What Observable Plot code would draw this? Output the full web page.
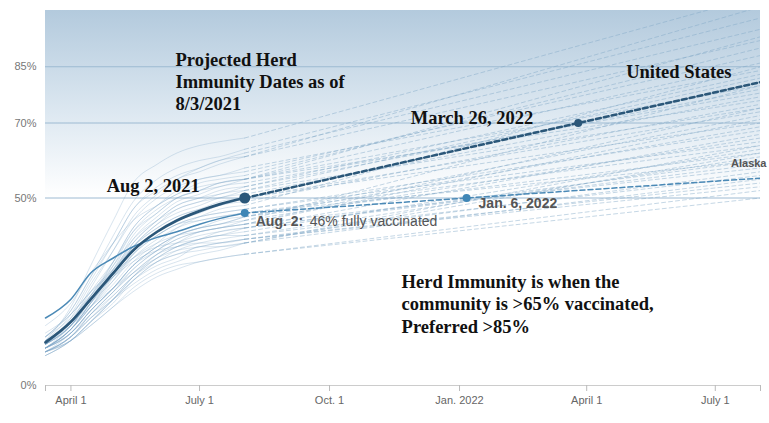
<!DOCTYPE html>
<html><head><meta charset="utf-8">
<script src="https://cdn.jsdelivr.net/npm/d3@7"></script>
<script src="https://cdn.jsdelivr.net/npm/@observablehq/plot@0.6"></script>
<style>
body{margin:0;background:#fff;}
#chart svg{display:block;}
</style>
</head><body><div id="chart"></div>
<script>
// ---- data ----
const histDates = ["2021-03-14","2021-04-01","2021-04-15","2021-05-01","2021-05-15","2021-06-01","2021-06-15","2021-07-01","2021-07-15","2021-08-02"];
const projEndDate = "2022-08-02";
const domainStart = "2021-03-14";
const xTickDates = ["2021-03-14","2021-04-01","2021-07-01","2021-10-01","2022-01-01","2022-04-01","2022-07-01","2022-08-02"];
const xTickLabels = ["","April 1","July 1","Oct. 1","Jan. 2022","April 1","July 1",""];
const yTicks = [0, 50, 70, 85];
const gridLines = [50, 70, 85];

const usValues = [11.5, 17, 23, 30, 36, 41, 44, 46.5, 48.3, 50];
const usMilestone = {date: "2022-03-26", value: 70, label: "March 26, 2022"};
const usProjEnd = 80.9;

const alaskaValues = [18, 23, 30, 34, 37, 39.5, 41, 43, 44.5, 46];
const alaskaMilestone = {date: "2022-01-06", value: 50, label: "Jan. 6, 2022"};
const alaskaProjEnd = 55.3;

const stateNames = ["VT","ME","MA","CT","RI","NJ","MD","NH","WA","NM","NY","OR","VA","HI","CO","MN","CA","DE","PA","WI","IL","NE","IA","MI","SD","KY","FL","KS","OH","AZ","NC","TX","MT","MO","SC","GA","TN","AR","LA","WY","ID","MS","AL","WV","UT","ND","NV","IN"];
const stateValues = [
  [12,21,32,44,54,59,62,64,65,66],
  [13,20,29,40,49,55,58,60,61,63],
  [12,19,28,38,47,53,56,58,60,62],
  [13,20,29,38,47,52,55,58,60,61],
  [11,17,26,36,45,51,55,57,59,61],
  [11,16,24,33,42,48,52,55,56,57],
  [11,16,23,33,42,48,51,54,55,56],
  [11,18,27,36,44,50,53,55,56,58],
  [10,15,22,31,40,46,50,52,54,55],
  [16,22,30,38,44,48,51,53,54,55],
  [11,16,23,32,41,47,50,52,54,55],
  [10,15,21,30,39,45,49,51,53,54],
  [10,15,22,30,38,44,48,50,52,53],
  [12,17,25,33,41,46,50,52,53,55],
  [10,16,23,31,38,44,48,50,51,53],
  [11,17,24,32,39,44,47,49,50,52],
  [10,15,21,29,37,43,47,49,51,52],
  [11,16,23,30,37,43,46,48,50,51],
  [10,15,22,30,37,42,45,47,49,50],
  [11,17,24,31,37,42,45,47,48,50],
  [10,15,21,28,35,41,44,46,48,49],
  [10,15,22,29,35,40,43,45,46,47],
  [11,16,23,29,35,40,43,45,46,47],
  [11,16,22,28,34,39,42,44,45,46],
  [13,19,25,31,36,40,43,44,45,46],
  [10,14,20,26,32,37,40,42,43,45],
  [10,15,21,27,33,38,42,45,47,48],
  [10,14,20,26,32,36,40,42,43,44],
  [10,14,20,26,32,37,40,42,44,45],
  [9,14,20,26,32,37,40,42,43,45],
  [10,14,20,26,31,36,39,41,42,43],
  [8,12,17,23,29,35,38,41,42,44],
  [12,17,23,29,34,38,40,41,42,43],
  [9,13,19,25,30,35,37,39,41,42],
  [9,13,18,24,29,34,37,39,40,41],
  [8,12,17,22,28,33,36,38,39,40],
  [9,12,17,23,28,33,35,37,38,39],
  [9,13,18,23,28,32,34,37,37,38],
  [9,13,18,23,27,31,33,35,36,38],
  [12,16,21,26,30,34,36,37,38,39],
  [10,14,19,24,29,33,35,36,37,38],
  [9,12,16,21,25,29,31,33,34,35],
  [9,12,16,21,26,30,32,33,34,35],
  [13,18,24,29,33,36,37,38,38,39],
  [8,12,17,23,29,34,37,39,40,42],
  [14,19,25,30,34,37,38,39,40,40],
  [9,13,19,25,31,36,39,41,42,43],
  [9,13,19,25,30,35,38,40,41,42]
];
const stateProjEnd = [104,98,95,92,101,88,90,84,86,80,93,78,83,76,79,74,82,77,73,70,75,68,65,64,60,72,85,66,62,69,71,80,58,67,63,61,57,64,62,54,55,52,50,53,59,56,74,60];

// ---- tables built from the arrays ----
const parse = s => new Date(s);
const histRows = [];
const projRows = [];
stateNames.forEach((name, i) => {
  histDates.forEach((d, j) => histRows.push({state: name, date: parse(d), value: stateValues[i][j]}));
  projRows.push({state: name, date: parse(histDates[histDates.length - 1]), value: stateValues[i][histDates.length - 1]});
  projRows.push({state: name, date: parse(projEndDate), value: stateProjEnd[i]});
});
const lastDate = parse(histDates[histDates.length - 1]);
const usHist = histDates.map((d, j) => ({date: parse(d), value: usValues[j]}));
const usProj = [
  {date: lastDate, value: usValues[usValues.length - 1]},
  {date: parse(usMilestone.date), value: usMilestone.value},
  {date: parse(projEndDate), value: usProjEnd}
];
const akHist = histDates.map((d, j) => ({date: parse(d), value: alaskaValues[j]}));
const akProj = [
  {date: lastDate, value: alaskaValues[alaskaValues.length - 1]},
  {date: parse(alaskaMilestone.date), value: alaskaMilestone.value},
  {date: parse(projEndDate), value: alaskaProjEnd}
];
const tickLabelMap = new Map(xTickDates.map((d, i) => [+parse(d), xTickLabels[i]]));

const serif = "'Liberation Serif', 'Times New Roman', serif";
const sans = "'Liberation Sans', Arial, Helvetica, sans-serif";

const plot = Plot.plot({
  width: 769,
  height: 423,
  marginLeft: 45,
  marginRight: 9,
  marginTop: 10,
  marginBottom: 38,
  style: {fontFamily: sans, background: "#fff", overflow: "visible"},
  x: {type: "utc", domain: [parse(domainStart), parse(projEndDate)]},
  y: {domain: [0, 100]},
  marks: [
    Plot.rect([0], {x1: parse(domainStart), x2: parse(projEndDate), y1: 50, y2: 100, fill: "url(#bgGrad)"}),
    Plot.ruleY(gridLines, {stroke: "#9dbad2", strokeWidth: 1}),
    Plot.ruleY([0], {stroke: "#cccccc", strokeWidth: 1.2}),
    Plot.line(histRows, {x: "date", y: "value", z: "state", stroke: "#7fa6c6", strokeOpacity: 0.3, strokeWidth: 1, curve: "monotone-x"}),
    Plot.line(projRows, {x: "date", y: "value", z: "state", stroke: "#7fa6c6", strokeOpacity: 0.45, strokeWidth: 1, strokeDasharray: "4,3", clip: true}),
    Plot.line(akHist, {x: "date", y: "value", stroke: "#4a89b6", strokeWidth: 1.5, curve: "monotone-x"}),
    Plot.line(akProj, {x: "date", y: "value", stroke: "#4a89b6", strokeWidth: 1.5, strokeDasharray: "5,3", clip: true}),
    Plot.line(usHist, {x: "date", y: "value", stroke: "#2b5779", strokeWidth: 2.7, curve: "monotone-x"}),
    Plot.line(usProj, {x: "date", y: "value", stroke: "#2b5779", strokeWidth: 2.5, strokeDasharray: "5,3", clip: true}),
    Plot.dot([akProj[0], akProj[1]], {x: "date", y: "value", r: 4, fill: "#3f86b6"}),
    Plot.dot([usProj[0]], {x: "date", y: "value", r: 5.5, fill: "#2b5779"}),
    Plot.dot([usProj[1]], {x: "date", y: "value", r: 4, fill: "#2b5779"}),
    Plot.axisX({ticks: xTickDates.map(parse), tickFormat: d => tickLabelMap.get(+d) ?? "", tickSize: 6, tickPadding: 5, stroke: "#bbbbbb", color: "#666", fontSize: 11, label: null}),
    Plot.axisY({ticks: yTicks, tickFormat: d => d + "%", tickSize: 0, tickPadding: 9, color: "#777", fontSize: 11, label: null}),
    // annotations
    Plot.text([0], {x: parse("2021-06-14"), y: 81.3, text: () => "Projected Herd\nImmunity Dates as of\n8/3/2021", textAnchor: "start", lineAnchor: "middle", lineHeight: 1.2, fontFamily: serif, fontWeight: "bold", fontSize: 18.5, fill: "#111"}),
    Plot.text([usProj[0]], {x: "date", y: "value", text: () => "Aug 2, 2021", textAnchor: "end", dx: -45, dy: -12, fontFamily: serif, fontWeight: "bold", fontSize: 18.5, fill: "#111"}),
    Plot.text([usProj[1]], {x: "date", y: "value", text: () => usMilestone.label, textAnchor: "end", dx: -45, dy: -5, fontFamily: serif, fontWeight: "bold", fontSize: 18.5, fill: "#111"}),
    Plot.text([usProj[2]], {x: "date", y: "value", text: () => "United States", textAnchor: "end", dx: -29, dy: -10, fontFamily: serif, fontWeight: "bold", fontSize: 18.5, fill: "#111"}),
    Plot.text([akProj[2]], {x: "date", y: "value", text: () => "Alaska", textAnchor: "end", dx: 6, dy: -15, fontWeight: "bold", fontSize: 11, fill: "#555"}),
    Plot.text([akProj[0]], {x: "date", y: "value", text: () => "Aug. 2:", textAnchor: "start", dx: 11, dy: 8.5, fontWeight: "bold", fontSize: 14, fill: "#555"}),
    Plot.text([akProj[0]], {x: "date", y: "value", text: () => "46% fully vaccinated", textAnchor: "start", dx: 65, dy: 8.5, fontSize: 14, fill: "#555"}),
    Plot.text([akProj[1]], {x: "date", y: "value", text: () => alaskaMilestone.label, textAnchor: "start", dx: 12, dy: 6, fontWeight: "bold", fontSize: 14, fill: "#555"}),
    Plot.text([0], {x: parse("2021-11-21"), y: 21.9, text: () => "Herd Immunity is when the\ncommunity is >65% vaccinated,\nPreferred >85%", textAnchor: "start", lineAnchor: "middle", lineHeight: 1.2, fontFamily: serif, fontWeight: "bold", fontSize: 18.5, fill: "#111"})
  ]
});

const svg = d3.select(plot);
const defs = svg.insert("defs", ":first-child");
const grad = defs.append("linearGradient").attr("id", "bgGrad").attr("x1", 0).attr("y1", 0).attr("x2", 0).attr("y2", 1);
grad.append("stop").attr("offset", "0%").attr("stop-color", "#b3cadd");
grad.append("stop").attr("offset", "55%").attr("stop-color", "#dde8f1");
grad.append("stop").attr("offset", "100%").attr("stop-color", "#ffffff");

document.getElementById("chart").appendChild(plot);
</script>
</body></html>
